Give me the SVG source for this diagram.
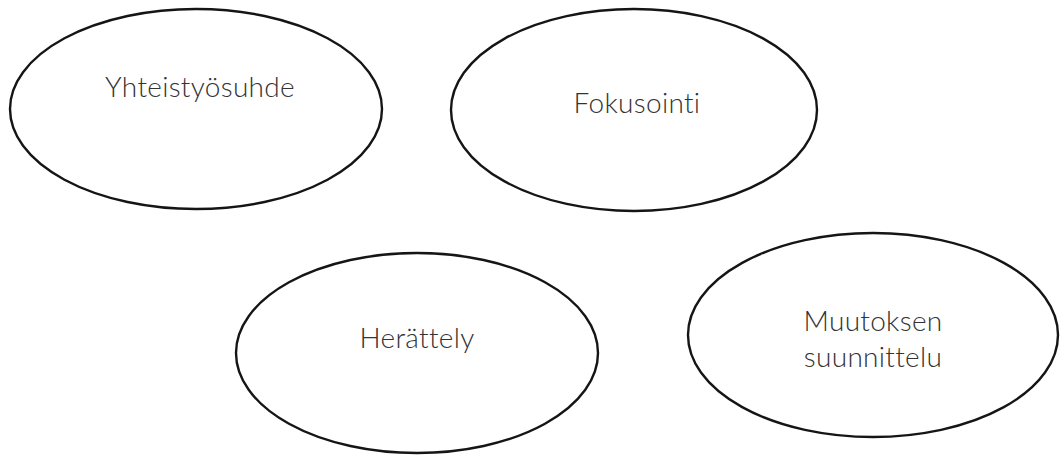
<svg xmlns="http://www.w3.org/2000/svg" width="1060" height="456" viewBox="0 0 1060 456">
  <style>
    .bg { fill: #ffffff; }
    .node ellipse { fill: #ffffff; stroke: #151515; stroke-width: 2.4; }
    .node text { font-family: "Lato", "Liberation Sans", sans-serif; font-size: 28px; font-weight: 300; fill: #333333; text-anchor: middle; letter-spacing: 0.3px; }
  </style>
  <rect class="bg" x="0" y="0" width="1060" height="456"/>
  <g id="connectors"></g>
  <g id="node-yhteistyosuhde" class="node">
    <ellipse cx="196" cy="109" rx="186" ry="100"/>
    <text x="200" y="97">Yhteistyösuhde</text>
  </g>
  <g id="node-fokusointi" class="node">
    <ellipse cx="634" cy="110" rx="183" ry="101"/>
    <text x="637" y="113">Fokusointi</text>
  </g>
  <g id="node-herattely" class="node">
    <ellipse cx="417" cy="353" rx="181" ry="100"/>
    <text x="417" y="348">Herättely</text>
  </g>
  <g id="node-muutoksen-suunnittelu" class="node">
    <ellipse cx="873" cy="335" rx="185" ry="102"/>
    <text x="873" y="331">Muutoksen</text>
    <text x="873" y="367">suunnittelu</text>
  </g>
</svg>
